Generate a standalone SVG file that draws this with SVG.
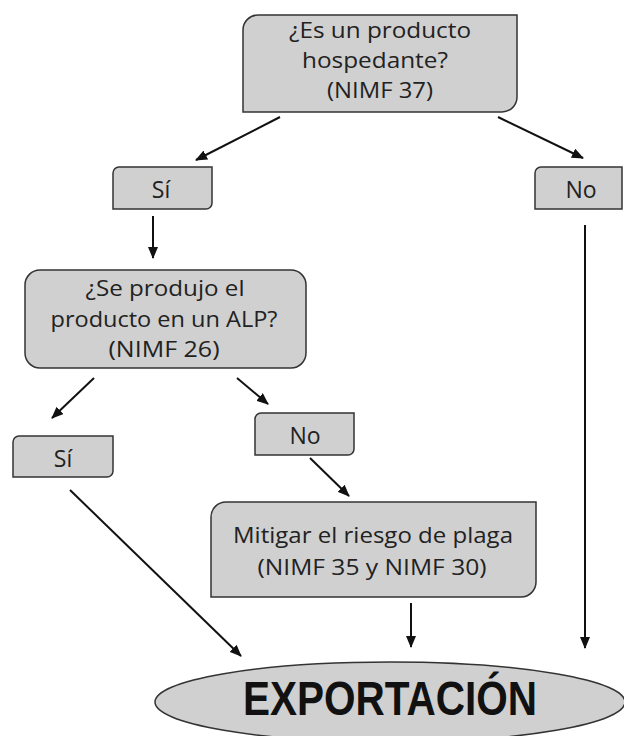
<svg xmlns="http://www.w3.org/2000/svg" width="624" height="736" viewBox="0 0 624 736">
<style>
.box{fill:#d0d0d0;stroke:#333;stroke-width:1.5}
.t{font-family:"Open Sans","Liberation Sans",sans-serif;font-size:22px;fill:#222;text-anchor:middle}
.s{font-size:23px}
.big{font-family:"Liberation Sans","Open Sans",sans-serif;font-size:48px;font-weight:bold;fill:#111;text-anchor:middle}
.c{stroke:#111;stroke-width:2;fill:none;marker-end:url(#ah)}
</style>
<defs>
<marker id="ah" markerUnits="userSpaceOnUse" markerWidth="12" markerHeight="10" refX="11" refY="5" orient="auto">
<path d="M0,0 L12,5 L0,10 Z" fill="#111"/>
</marker>
</defs>
<rect width="624" height="736" fill="#fff"/>
<g id="connectors">
<line class="c" x1="280" y1="117" x2="196" y2="160"/>
<line class="c" x1="498" y1="117" x2="583" y2="158"/>
<line class="c" x1="153" y1="216" x2="153" y2="258"/>
<line class="c" x1="585" y1="225" x2="585" y2="648"/>
<line class="c" x1="94" y1="378" x2="52" y2="418"/>
<line class="c" x1="237" y1="378" x2="268" y2="404"/>
<line class="c" x1="310" y1="458" x2="349" y2="496"/>
<line class="c" x1="70" y1="490" x2="241" y2="656"/>
<line class="c" x1="411" y1="603" x2="411" y2="647"/>
</g>
<g id="q1">
<path class="box" d="M258,15 H517 V97 A15,15 0 0 1 502,112 H243 V30 A15,15 0 0 1 258,15 Z"/>
<text class="t" x="380" y="38" textLength="182" lengthAdjust="spacingAndGlyphs">¿Es un producto</text>
<text class="t" x="375" y="68" textLength="146" lengthAdjust="spacingAndGlyphs">hospedante?</text>
<text class="t" x="380" y="98" textLength="106" lengthAdjust="spacingAndGlyphs">(NIMF 37)</text>
</g>
<g id="si1">
<path class="box" d="M119,167 H212 V203 A6,6 0 0 1 206,209 H113 V173 A6,6 0 0 1 119,167 Z"/>
<text class="t s" x="161" y="198">Sí</text>
</g>
<g id="no1">
<path class="box" d="M541,167 H622 V209 H535 V173 A6,6 0 0 1 541,167 Z"/>
<text class="t s" x="581" y="198">No</text>
</g>
<g id="q2">
<rect class="box" x="25" y="270" width="281" height="98" rx="15" ry="15"/>
<text class="t" x="165" y="296" textLength="159" lengthAdjust="spacingAndGlyphs">¿Se produjo el</text>
<text class="t" x="164" y="327" textLength="227" lengthAdjust="spacingAndGlyphs">producto en un ALP?</text>
<text class="t" x="164" y="357" textLength="111" lengthAdjust="spacingAndGlyphs">(NIMF 26)</text>
</g>
<g id="si2">
<path class="box" d="M19,436 H113 V471 A6,6 0 0 1 107,477 H13 V442 A6,6 0 0 1 19,436 Z"/>
<text class="t s" x="63" y="467">Sí</text>
</g>
<g id="no2">
<path class="box" d="M261,413 H354 V449 A6,6 0 0 1 348,455 H255 V419 A6,6 0 0 1 261,413 Z"/>
<text class="t s" x="305" y="444">No</text>
</g>
<g id="mitigar">
<path class="box" d="M226,502 H536 V582 A15,15 0 0 1 521,597 H211 V517 A15,15 0 0 1 226,502 Z"/>
<text class="t" x="373" y="543" textLength="280" lengthAdjust="spacingAndGlyphs">Mitigar el riesgo de plaga</text>
<text class="t" x="372" y="575" textLength="229" lengthAdjust="spacingAndGlyphs">(NIMF 35 y NIMF 30)</text>
</g>
<g id="export">
<ellipse class="box" cx="390" cy="702" rx="235" ry="40"/>
<text class="big" x="390" y="715" textLength="294" lengthAdjust="spacingAndGlyphs">EXPORTACIÓN</text>
</g>
</svg>
